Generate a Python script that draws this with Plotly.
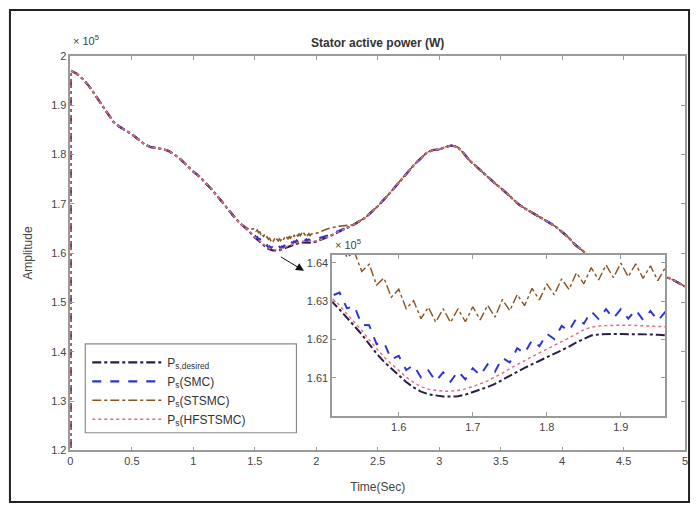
import numpy as np
import plotly.graph_objects as go

# ---------------- data (values in units of 1e5 W) ----------------
t_pre = [0, 0.002, 0.05, 0.1, 0.15, 0.2, 0.25, 0.3, 0.35, 0.4, 0.45, 0.5, 0.55, 0.6, 0.65,
         0.7, 0.75, 0.8, 0.85, 0.9, 0.95, 1.0, 1.05, 1.1, 1.15, 1.2, 1.25, 1.3, 1.35, 1.4]
p_pre = [0.0, 1.970, 1.964, 1.953, 1.939, 1.921, 1.902, 1.883, 1.866, 1.856, 1.849, 1.841,
         1.831, 1.821, 1.815, 1.813, 1.811, 1.807, 1.799, 1.789, 1.776, 1.765, 1.755, 1.743,
         1.729, 1.714, 1.698, 1.682, 1.668, 1.656]

t_fine = [1.45] + [round(1.50 + 0.01 * i, 2) for i in range(47)]

desired_fine = [1.645, 1.6315, 1.6298, 1.6278, 1.6255, 1.6235, 1.6213, 1.6188, 1.6163, 1.6142,
                1.6124, 1.6105, 1.6089, 1.6075, 1.6064, 1.6057, 1.6054, 1.6051, 1.6051, 1.6052,
                1.6056, 1.6062, 1.6068, 1.6076, 1.6084, 1.6095, 1.6106, 1.6116, 1.6126, 1.6135,
                1.6144, 1.6153, 1.6162, 1.6172, 1.6181, 1.6192, 1.6202, 1.6210, 1.6213, 1.6214,
                1.6214, 1.6214, 1.6214, 1.6214, 1.6214, 1.6213, 1.6212, 1.6211]
smc_fine = [1.648, 1.6357, 1.6314, 1.6322, 1.6281, 1.6287, 1.6238, 1.6237, 1.6188, 1.6192,
            1.6148, 1.6157, 1.6120, 1.6133, 1.6101, 1.6119, 1.6091, 1.6114, 1.6090, 1.6117,
            1.6096, 1.6125, 1.6106, 1.6135, 1.6116, 1.6152, 1.6140, 1.6177, 1.6164, 1.6198,
            1.6182, 1.6215, 1.6201, 1.6235, 1.6222, 1.6255, 1.6241, 1.6273, 1.6253, 1.6279,
            1.6255, 1.6279, 1.6254, 1.6277, 1.6251, 1.6274, 1.6249, 1.6272]
stsmc_fine = [1.648, 1.6493, 1.6447, 1.6468, 1.6414, 1.6428, 1.6377, 1.6396, 1.6342, 1.6360,
              1.6310, 1.6331, 1.6280, 1.6301, 1.6254, 1.6284, 1.6245, 1.6280, 1.6244, 1.6280,
              1.6246, 1.6285, 1.6251, 1.6289, 1.6258, 1.6304, 1.6275, 1.6317, 1.6288, 1.6333,
              1.6303, 1.6345, 1.6316, 1.6358, 1.6330, 1.6374, 1.6345, 1.6387, 1.6355, 1.6394,
              1.6361, 1.6399, 1.6363, 1.6397, 1.6359, 1.6392, 1.6353, 1.6387]
hfstsmc_fine = [1.646, 1.6325, 1.6308, 1.6289, 1.6266, 1.6246, 1.6224, 1.6199, 1.6175, 1.6154,
                1.6136, 1.6118, 1.6102, 1.6088, 1.6077, 1.6070, 1.6067, 1.6065, 1.6065, 1.6067,
                1.6071, 1.6077, 1.6084, 1.6092, 1.6101, 1.6112, 1.6124, 1.6135, 1.6145, 1.6155,
                1.6165, 1.6174, 1.6184, 1.6194, 1.6204, 1.6215, 1.6225, 1.6232, 1.6235, 1.6236,
                1.6237, 1.6237, 1.6237, 1.6236, 1.6236, 1.6235, 1.6234, 1.6233]

t_trans = [2.0, 2.1, 2.2]
desired_trans = [1.6235, 1.633, 1.645]
smc_trans = [1.6285, 1.636, 1.646]
stsmc_trans = [1.640, 1.650, 1.655]
hfstsmc_trans = [1.6245, 1.6335, 1.6452]

t_post = [2.3, 2.4, 2.5, 2.6, 2.7, 2.8, 2.9, 2.95, 3.0, 3.05, 3.1, 3.15, 3.2, 3.25, 3.3, 3.35,
          3.4, 3.45, 3.5, 3.55, 3.6, 3.65, 3.7, 3.75, 3.8, 3.85, 3.9, 3.95, 4.0, 4.05, 4.1,
          4.15, 4.2, 4.3, 4.4, 4.5, 4.6, 4.7, 4.8, 4.85, 4.9, 4.95, 5.0]
p_post = [1.657, 1.672, 1.695, 1.722, 1.752, 1.780, 1.804, 1.809, 1.810, 1.815, 1.818, 1.815,
          1.802, 1.787, 1.776, 1.765, 1.752, 1.742, 1.732, 1.721, 1.708, 1.698, 1.690, 1.683,
          1.676, 1.669, 1.661, 1.653, 1.643, 1.632, 1.618, 1.607, 1.598, 1.587, 1.580, 1.573,
          1.566, 1.561, 1.555, 1.551, 1.546, 1.539, 1.532]

names = ["P<sub>s,desired</sub>", "P<sub>s</sub>(SMC)", "P<sub>s</sub>(STSMC)", "P<sub>s</sub>(HFSTSMC)"]
fines = [desired_fine, smc_fine, stsmc_fine, hfstsmc_fine]
transes = [desired_trans, smc_trans, stsmc_trans, hfstsmc_trans]
colors = ["#2a1c48", "#2a36d0", "#8a5524", "#e56a86"]
dashes = ["dashdot", "dash", "dashdot", "dot"]
widths = [2.2, 2.2, 1.6, 1.6]

x_ticks = [0, 0.5, 1, 1.5, 2, 2.5, 3, 3.5, 4, 4.5, 5]
y_ticks = [1.2, 1.3, 1.4, 1.5, 1.6, 1.7, 1.8, 1.9, 2.0]
y_labels = ["1.2", "1.3", "1.4", "1.5", "1.6", "1.7", "1.8", "1.9", "2"]
inset_x_ticks = [1.6, 1.7, 1.8, 1.9]
inset_y_ticks = [1.61, 1.62, 1.63, 1.64]

# ---------------- figure ----------------
W, H = 697, 511
fig = go.Figure()

for name, fine, trans, c, d, w in zip(names, fines, transes, colors, dashes, widths):
    t = t_pre + t_fine + t_trans + t_post
    v = p_pre + fine + trans + p_post
    fig.add_trace(go.Scatter(x=t, y=v, mode="lines", name=name,
                             line=dict(color=c, dash=d, width=w),
                             xaxis="x", yaxis="y", showlegend=True))
for name, fine, trans, c, d, w in zip(names, fines, transes, colors, dashes, widths):
    t = t_pre + t_fine + t_trans + t_post
    v = p_pre + fine + trans + p_post
    fig.add_trace(go.Scatter(x=t, y=v, mode="lines", name=name,
                             line=dict(color=c, dash=d, width=w * 0.9),
                             xaxis="x2", yaxis="y2", showlegend=False))

def px(x):
    return x / W

def py(y):
    return 1 - y / H

FONT = "Liberation Sans, Arial, sans-serif"
tickfont = dict(family=FONT, size=11, color="#444")
axcol = "#9a9a9a"

fig.update_layout(
    width=W, height=H,
    margin=dict(l=0, r=0, t=0, b=0),
    paper_bgcolor="white", plot_bgcolor="white",
    font=dict(family=FONT, size=11, color="#444"),
    xaxis=dict(domain=[px(68), px(688)], range=[0, 5], tickvals=x_ticks,
               ticks="inside", ticklen=4, tickcolor=axcol, showline=True, linecolor=axcol,
               linewidth=1.5, mirror="ticks", showgrid=False, zeroline=False,
               tickfont=tickfont,
               title=dict(text="Time(Sec)", font=dict(size=12, color="#444"), standoff=16)),
    yaxis=dict(domain=[py(455), py(51)], range=[1.2, 2.0], tickvals=y_ticks,
               ticktext=y_labels,
               ticks="inside", ticklen=4, tickcolor=axcol, showline=True, linecolor=axcol,
               linewidth=1.5, mirror="ticks", showgrid=False, zeroline=False,
               tickfont=tickfont,
               title=dict(text="Amplitude", font=dict(size=12, color="#444"), standoff=16)),
    xaxis2=dict(domain=[px(332), px(668)], range=[1.51, 1.96], tickvals=inset_x_ticks,
                ticks="inside", ticklen=4, tickcolor=axcol, showline=True, linecolor=axcol,
                linewidth=1.5, mirror="ticks", showgrid=False, zeroline=False,
                tickfont=tickfont, anchor="y2"),
    yaxis2=dict(domain=[py(420), py(255)], range=[1.6, 1.642], tickvals=inset_y_ticks,
                ticks="inside", ticklen=4, tickcolor=axcol, showline=True, linecolor=axcol,
                linewidth=1.5, mirror="ticks", showgrid=False, zeroline=False,
                tickfont=tickfont, anchor="x2"),
    legend=dict(x=px(85), y=py(350), xanchor="left", yanchor="top",
                bgcolor="rgba(0,0,0,0)", borderwidth=0,
                font=dict(family=FONT, size=12, color="#333"),
                tracegroupgap=0, itemwidth=70),
    showlegend=True,
)

# legend frame
fig.add_shape(type="rect", xref="paper", yref="paper",
              x0=px(83), x1=px(296), y0=py(437), y1=py(346),
              line=dict(color="#8a8a8a", width=1.2), fillcolor="white", layer="below")

# outer frame
fig.add_shape(type="rect", xref="paper", yref="paper",
              x0=px(7), x1=px(692), y0=py(508), y1=py(4),
              line=dict(color="#222", width=2), fillcolor="rgba(0,0,0,0)", layer="above")

# title and exponent labels
fig.add_annotation(text="<b>Stator active power (W)</b>", xref="paper", yref="paper",
                   x=px(378), y=py(38), xanchor="center", yanchor="middle", showarrow=False,
                   font=dict(size=12, color="#333"))
fig.add_annotation(text="× 10<sup>5</sup>", xref="paper", yref="paper",
                   x=px(69), y=py(44), xanchor="left", yanchor="bottom", showarrow=False,
                   font=dict(size=11, color="#444"))
fig.add_annotation(text="× 10<sup>5</sup>", xref="paper", yref="paper",
                   x=px(333), y=py(253), xanchor="left", yanchor="bottom", showarrow=False,
                   font=dict(size=11, color="#444"))

# arrow pointing to the zoom
fig.add_annotation(x=1.90, y=1.564, ax=1.70, ay=1.594, xref="x", yref="y",
                   axref="x", ayref="y", text="", showarrow=True,
                   arrowhead=2, arrowsize=1.6, arrowwidth=1, arrowcolor="#111")

fig.write_html("out.html")
